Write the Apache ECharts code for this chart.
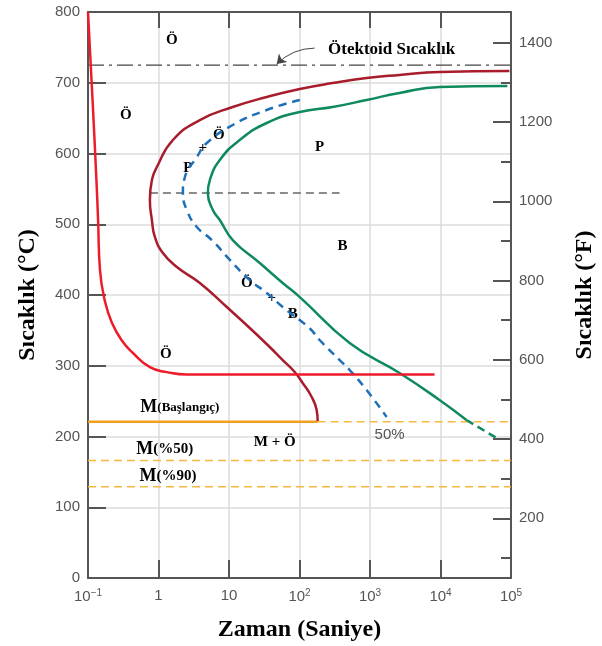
<!DOCTYPE html>
<html>
<head>
<meta charset="utf-8">
<script src="https://cdn.jsdelivr.net/npm/echarts@6/dist/echarts.min.js"></script>
<style>
  html, body { margin: 0; padding: 0; background: #fff; }
  #chart { width: 602px; height: 646px; }
</style>
</head>
<body>
<div id="chart"></div>
<script>
// zaman (s), sıcaklık (°C) çiftleri
const ostenitSiniri = [
  [0.1, 800], [0.116, 676], [0.132, 560], [0.139, 506], [0.148, 435], [0.175, 390],
  [0.22, 360], [0.3, 336], [0.434, 318], [0.755, 298], [1.32, 291], [2.52, 287.5], [8220, 287.5]
]
const donusumBaslangic = [
  [94900, 716.6], [9680, 715.2], [2625, 711], [895, 706.7], [295, 699.6],
  [101, 691.2], [34.3, 679.9], [11.3, 665.7], [3.86, 647.3], [1.60, 619.1],
  [0.949, 580.9], [0.806, 562.5], [0.755, 534.3], [0.806, 506], [0.889, 482],
  [1.154, 459.4], [1.82, 439.6], [3.86, 417], [9.31, 383], [19.7, 353.4],
  [37.8, 326.5], [57.8, 308.1], [85.5, 291.2], [111, 275.6], [149, 255.8],
  [175, 237.5], [181, 222]
]
const donusum50 = [
  [101, 675.6], [34.3, 661.5], [11.3, 640.3], [4.85, 614.8], [3.50, 595],
  [2.37, 566.8], [2.22, 544.2], [2.52, 520.1], [3.50, 496.1], [5.71, 477.7],
  [10.3, 449.5], [19.7, 421], [34.3, 402.8], [57.8, 383], [139, 353],
  [193, 336.4], [371, 308], [514, 294], [895, 265.7], [1720, 227.6]
]
const donusumBitis = [
  [88900, 695.4], [9680, 694], [2625, 685.5], [895, 675.6], [295, 665.7],
  [101, 658.7], [34.3, 643.1], [14.2, 619.1], [7.41, 590.8], [5.35, 562.5],
  [5.01, 544.2], [5.90, 520.1], [7.41, 506], [11.3, 477.7], [27.3, 445.2],
  [57.8, 417], [101, 397], [514, 332.2], [2625, 289.7], [9680, 251.6], [23300, 223.3]
]
const donusumBitisKesik = [[23300, 223.3], [62100, 198]]
const mBaslangicDuz = [[0.1, 221], [181, 221]]
const mBaslangicKesik = [[181, 221], [100000, 221]]
const m50 = [[0.1, 166], [100000, 166]]
const m90 = [[0.1, 129], [100000, 129]]
const otektoid = [[0.1, 725], [100000, 725]]
const burunCizgisi = [[0.755, 544], [370, 544]]

const yaziEtiketleri = [
  [1.55, 760, 'Ö'], [0.345, 654, 'Ö'], [7.17, 626, 'Ö'], [4.26, 608, '+'],
  [2.61, 579, 'P'], [193, 609, 'P'], [409, 469, 'B'], [17.9, 417, 'Ö'],
  [40.4, 396, '+'], [80.2, 373, 'B'], [1.27, 317, 'Ö'],
  [2.01, 241, '{m|M}{k|(Başlangıç)}'], [44.6, 192, 'M + Ö'],
  [1.23, 182, '{m|M}{o|(%50)}'], [1.36, 144, '{m|M}{o|(%90)}'],
  [2023, 747, '{b|Ötektoid Sıcaklık}']
]
const yuzdeEtiketi = [[1897, 203, '50%']]
const okUclari = [[164, 749], [47.5, 726.5]]

const zamanEtiket = { 0.1: '10{s|−1}', 1: '1', 10: '10', 100: '10{s|2}', 1000: '10{s|3}', 10000: '10{s|4}', 100000: '10{s|5}' }
const fahrenheitEtiket = [200, 400, 600, 800, 1000, 1200, 1400]
const fahrenheitAra = [100, 300, 500, 700, 900, 1100, 1300]

const serif = 'Liberation Serif'
const axisGray = '#555'

const chart = echarts.init(document.getElementById('chart'))

const line = (data, color, width, type, extra) => Object.assign({
  type: 'line', data, symbol: 'none', silent: true, animation: false,
  lineStyle: { color, width, type }, xAxisIndex: 0, yAxisIndex: 0
}, extra || {})

const labelScatter = (data, label) => ({
  type: 'scatter', symbolSize: 0, silent: true, animation: false,
  itemStyle: { opacity: 1 },
  data: data.map(d => ({ value: [d[0], d[1]], name: d[2] })),
  label: Object.assign({ show: true, position: 'inside', formatter: p => p.name, opacity: 1 }, label)
})

const option = {
  animation: false,
  grid: { left: 88, right: 91, top: 12, bottom: 68, outerBoundsMode: 'none' },
  xAxis: [
    {
      type: 'log', logBase: 10, min: 0.1, max: 100000, position: 'bottom',
      name: 'Zaman (Saniye)', nameLocation: 'middle', nameGap: 40,
      nameTextStyle: { fontFamily: serif, fontWeight: 'bold', fontSize: 24, color: '#000' },
      axisLine: { lineStyle: { color: axisGray, width: 2 } },
      axisTick: { inside: true, length: 18, lineStyle: { color: axisGray, width: 2 } },
      splitLine: { show: true, lineStyle: { color: '#dcdcdc', width: 1.5 } },
      axisLabel: {
        margin: 10, color: axisGray, fontSize: 15, fontFamily: 'Liberation Sans',
        formatter: v => {
          const k = Math.pow(10, Math.round(Math.log10(v)))
          return zamanEtiket[k] || ''
        },
        rich: { s: { fontSize: 10, verticalAlign: 'top', color: axisGray, padding: [0, 0, 8, 0] } }
      }
    },
    {
      type: 'log', logBase: 10, min: 0.1, max: 100000, position: 'top',
      axisLine: { lineStyle: { color: axisGray, width: 2 } },
      axisTick: { inside: true, length: 16, lineStyle: { color: axisGray, width: 2 } },
      axisLabel: { show: false }, splitLine: { show: false }
    }
  ],
  yAxis: [
    {
      type: 'value', min: 0, max: 800, interval: 100, position: 'left',
      name: 'Sıcaklık (°C)', nameLocation: 'middle', nameGap: 48, nameRotate: 90,
      nameTextStyle: { fontFamily: serif, fontWeight: 'bold', fontSize: 24, color: '#000' },
      axisLine: { show: true, lineStyle: { color: axisGray, width: 2 } },
      axisTick: { show: true, inside: true, length: 18, lineStyle: { color: axisGray, width: 2 } },
      splitLine: { show: true, lineStyle: { color: '#dcdcdc', width: 1.5 } },
      axisLabel: { margin: 8, color: axisGray, fontSize: 15, fontFamily: 'Liberation Sans' }
    },
    {
      type: 'value', min: 49.4, max: 1477.6, position: 'right',
      name: 'Sıcaklık (°F)', nameLocation: 'middle', nameGap: 62, nameRotate: 90,
      nameTextStyle: { fontFamily: serif, fontWeight: 'bold', fontSize: 24, color: '#000' },
      axisLine: { show: true, lineStyle: { color: axisGray, width: 2 } },
      axisTick: { show: true, inside: true, length: 18, customValues: fahrenheitEtiket, lineStyle: { color: axisGray, width: 2 } },
      splitLine: { show: false },
      axisLabel: {
        margin: 8, color: axisGray, fontSize: 15, fontFamily: 'Liberation Sans',
        customValues: fahrenheitEtiket, formatter: v => String(Math.round(v))
      }
    },
    {
      type: 'value', min: 49.4, max: 1477.6, position: 'right',
      axisLine: { show: false },
      axisTick: { show: true, inside: true, length: 10, customValues: fahrenheitAra, lineStyle: { color: axisGray, width: 2 } },
      splitLine: { show: false },
      axisLabel: { show: false }
    }
  ],
  series: [
    line(otektoid, '#444', 1.2, [16, 5, 3, 5]),
    line(burunCizgisi, '#666', 1.5, [8, 5]),
    line(mBaslangicKesik, '#f5b940', 1.5, [8, 5]),
    line(m50, '#f5b940', 1.5, [8, 5]),
    line(m90, '#f5b940', 1.5, [8, 5]),
    line(mBaslangicDuz, '#f0a020', 2.5, 'solid'),
    line(donusumBaslangic, '#a81c2c', 2.5, 'solid', { smooth: 0.5 }),
    line(donusum50, '#1f6fb8', 2.5, [8, 6], { smooth: 0.5 }),
    line(donusumBitis, '#0e8a5c', 2.5, 'solid', { smooth: 0.5 }),
    line(donusumBitisKesik, '#0e8a5c', 2.5, [8, 5]),
    line(ostenitSiniri, '#ee1c2a', 2.5, 'solid', { smooth: 0.5 }),
    {
      type: 'lines', coordinateSystem: 'cartesian2d', silent: true, animation: false,
      symbol: ['none', 'arrow'], symbolSize: 9,
      lineStyle: { color: '#444', width: 1, curveness: -0.2, opacity: 1 },
      data: [{ coords: okUclari }]
    },
    labelScatter(yaziEtiketleri, {
      fontFamily: serif, fontWeight: 'bold', fontSize: 15, color: '#000',
      rich: {
        m: { fontFamily: serif, fontWeight: 'bold', fontSize: 18, color: '#000' },
        k: { fontFamily: serif, fontWeight: 'bold', fontSize: 13, color: '#000' },
        o: { fontFamily: serif, fontWeight: 'bold', fontSize: 15, color: '#000' },
        b: { fontFamily: serif, fontWeight: 'bold', fontSize: 17, color: '#000' }
      }
    }),
    labelScatter(yuzdeEtiketi, { fontFamily: 'Liberation Sans', fontSize: 15, color: '#555' })
  ]
}

chart.setOption(option)
</script>
</body>
</html>
